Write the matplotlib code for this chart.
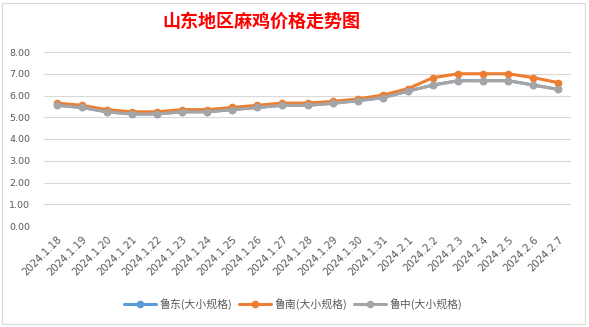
import matplotlib
matplotlib.use("Agg")
import matplotlib.pyplot as plt
from matplotlib.patches import Rectangle
from matplotlib.lines import Line2D

dates = ["2024.1.18", "2024.1.19", "2024.1.20", "2024.1.21", "2024.1.22", "2024.1.23",
         "2024.1.24", "2024.1.25", "2024.1.26", "2024.1.27", "2024.1.28", "2024.1.29",
         "2024.1.30", "2024.1.31", "2024.2.1", "2024.2.2", "2024.2.3", "2024.2.4",
         "2024.2.5", "2024.2.6", "2024.2.7"]
ludong = [5.55, 5.45, 5.25, 5.15, 5.15, 5.25, 5.25, 5.35, 5.45, 5.55, 5.55, 5.64,
          5.76, 5.9, 6.2, 6.48, 6.68, 6.68, 6.68, 6.48, 6.28]
lunan = [5.65, 5.55, 5.35, 5.25, 5.25, 5.35, 5.35, 5.45, 5.55, 5.65, 5.65, 5.73,
         5.84, 6.02, 6.31, 6.82, 7.0, 7.0, 7.0, 6.82, 6.59]
luzhong = [5.55, 5.45, 5.25, 5.15, 5.15, 5.25, 5.25, 5.35, 5.45, 5.55, 5.55, 5.64,
           5.76, 5.9, 6.2, 6.48, 6.68, 6.68, 6.68, 6.48, 6.28]
series_names = ["鲁东(大小规格)", "鲁南(大小规格)", "鲁中(大小规格)"]
yticks = [0, 1, 2, 3, 4, 5, 6, 7, 8]
title = "山东地区麻鸡价格走势图"

plt.rcParams['font.family'] = ['Noto Sans CJK SC', 'DejaVu Sans']

W, H = 589, 327
fig = plt.figure(figsize=(W / 100, H / 100), dpi=100)
fig.patch.set_facecolor("white")

# chart border
fig.add_artist(Rectangle((2 / W, 1 - 324 / H), 583 / W, 321 / H, transform=fig.transFigure,
                         fill=False, edgecolor="#D9D9D9", linewidth=0.8))

ax = fig.add_axes([44 / W, 1 - 226 / H, (571 - 44) / W, (226 - 52) / H])
x = list(range(len(dates)))
colors = ["#5B9BD5", "#ED7D31", "#A5A5A5"]
for vals, c, name in zip([ludong, lunan, luzhong], colors, series_names):
    ax.plot(x, vals, color=c, linewidth=2.2, marker="o", markersize=4.5,
            markeredgecolor=c, markerfacecolor=c, label=name, solid_capstyle="round")

ax.set_xlim(-0.5, len(dates) - 0.5)
ax.set_ylim(0, 8)
ax.set_yticks(yticks)
ax.set_yticklabels([f"{v:.2f}" for v in yticks], fontsize=6.8, color="#595959",
                   family="DejaVu Sans")
ax.set_xticks(x)
ax.set_xticklabels(dates, rotation=45, ha="right", rotation_mode="anchor",
                   fontsize=7.3, color="#595959", family="DejaVu Sans")
ax.tick_params(axis="both", length=0)
ax.tick_params(axis="y", pad=10)
ax.tick_params(axis="x", pad=6)
for s in ax.spines.values():
    s.set_visible(False)
ax.grid(axis="y", color="#D9D9D9", linewidth=0.8)
ax.set_axisbelow(True)

fig.text(261 / W, 1 - 21 / H, title, ha="center", va="center", fontsize=13,
         fontweight="bold", color="#FF0000")

leg = fig.legend(loc="center", bbox_to_anchor=(293 / W, 1 - 304 / H), ncol=3,
                 frameon=False, fontsize=7.8, handlelength=3.0, columnspacing=0.6,
                 handletextpad=0.3)
for t in leg.get_texts():
    t.set_color("#595959")

fig.savefig("out.png", dpi=100, facecolor="white")
